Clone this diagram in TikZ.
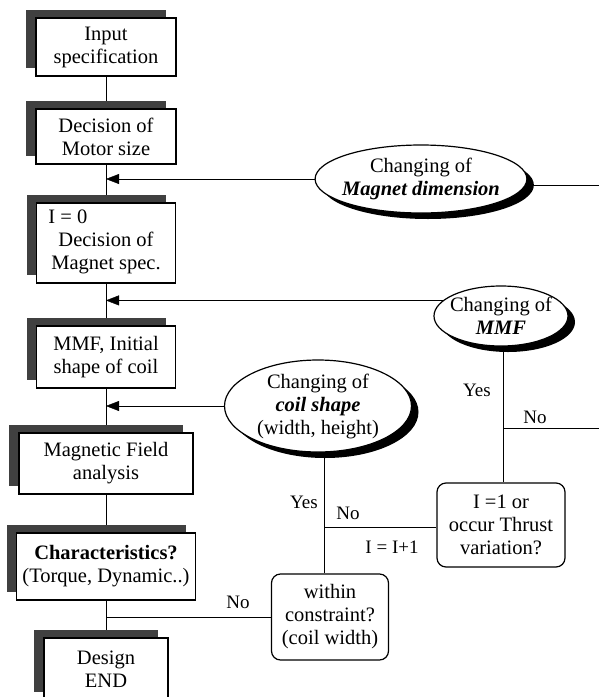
\documentclass[tikz,border=0pt]{standalone}
\usepackage{fontspec}
\setmainfont{Liberation Serif}
\usetikzlibrary{arrows.meta, positioning, shapes.geometric, shadows, backgrounds}

\tikzset{
	procbox/.style={draw, fill=white, line width=1.2pt, align=center, inner sep=2pt,
		drop shadow={shadow xshift=-10pt, shadow yshift=8pt, fill=black!75, opacity=1}},
	changeell/.style={ellipse, draw, fill=white, line width=1.2pt, align=center,
		inner sep=0pt, inner xsep=-4pt,
		drop shadow={shadow xshift=7pt, shadow yshift=-6pt, fill=black, opacity=1}},
	choicebox/.style={draw, fill=white, rounded corners=9pt, line width=1.2pt, align=center},
	lbl/.style={font=\fontsize{19}{21}\selectfont, inner sep=1pt}
}

\begin{document}
\begin{tikzpicture}[x=1pt, y=-1pt,
				>={Triangle[length=13pt, width=10pt]},
				line width=1pt,
				font=\fontsize{20.5}{23}\selectfont]
				\useasboundingbox (0,0) rectangle (599,697);
				\node at (106,47) (input) [procbox, minimum width=140pt, minimum height=58pt] {Input\\specification};
				\node at (106,136.5) (motor) [procbox, minimum width=140pt, minimum height=55pt] {Decision of\\Motor size};
				\node at (106,243) (magspec) [procbox, minimum width=139pt, minimum height=80pt] {};
				\node at (106,253) (magspectext) [align=center] {Decision of\\Magnet spec.};
				\node at (48,217) (izero) [anchor=west, inner sep=0pt] {I = 0};
				\node at (106,357) (mmfbox) [procbox, minimum width=139pt, minimum height=62pt] {MMF, Initial\\shape of coil};
				\node at (106,463.5) (field) [procbox, minimum width=174pt, minimum height=61pt] {Magnetic Field\\analysis};
				\node at (106,566.5) (charac) [procbox, minimum width=179pt, minimum height=67pt] {\textbf{Characteristics?}\\(Torque, Dynamic..)};
				\node at (106,669) (design) [procbox, minimum width=124pt, minimum height=62pt] {Design\\END};
				\node at (421,179) (magdim) [changeell, minimum width=208pt, minimum height=68pt] {Changing of\\\textbf{\textit{Magnet dimension}}};
				\node at (501,316) (mmf) [changeell, minimum width=134pt, minimum height=60pt] {Changing of\\\textbf{\textit{MMF}}};
				\node at (318,406) (coil) [changeell, minimum width=187pt, minimum height=92pt] {Changing of\\\textbf{\textit{coil shape}}\\(width, height)};
				\node at (501,525) (thrust) [choicebox, minimum width=128pt, minimum height=84pt] {I =1 or\\occur Thrust\\variation?};
				\node at (330,617) (within) [choicebox, minimum width=117pt, minimum height=86pt] {within\\constraint?\\(coil width)};
				\coordinate (jmmf) at (503,428);
				\coordinate (jcoil) at (324,527);
				\coordinate (edgetop) at (599,185);
				\coordinate (edgemid) at (599,428);
				\node at (477,390) (yesmmf) [lbl] {Yes};
				\node at (535,417) (nommf) [lbl] {No};
				\node at (304,502) (yescoil) [lbl] {Yes};
				\node at (348,513) (nocoil) [lbl] {No};
				\node at (392,547) (incr) [lbl] {I = I+1};
				\node at (238,602) (noend) [lbl] {No};
				\begin{scope}[on background layer]
				\draw (input.south) -- (motor.north);
				\draw (motor.south) -- (magspec.north);
				\draw (magspec.south) -- (mmfbox.north);
				\draw (mmfbox.south) -- (field.north);
				\draw (field.south) -- (charac.north);
				\draw (charac.south) -- (design.north);
				\draw [->] (magdim.west) -- (magdim.west -| motor.south);
				\draw (magdim.east |- edgetop) -- (edgetop);
				\draw [->] (mmf.165) -- (mmf.165 -| magspec.south);
				\draw [->] (coil.west) -- (coil.west -| mmfbox.south);
				\draw (jmmf |- mmf.south) -- (jmmf |- thrust.north);
				\draw (jmmf) -- (edgemid);
				\draw (jcoil |- coil.south) -- (jcoil |- within.north);
				\draw (jcoil) -- (jcoil -| thrust.west);
				\draw (within.west) -- (within.west -| charac.south);
				\end{scope}
			\end{tikzpicture}
\end{document}
